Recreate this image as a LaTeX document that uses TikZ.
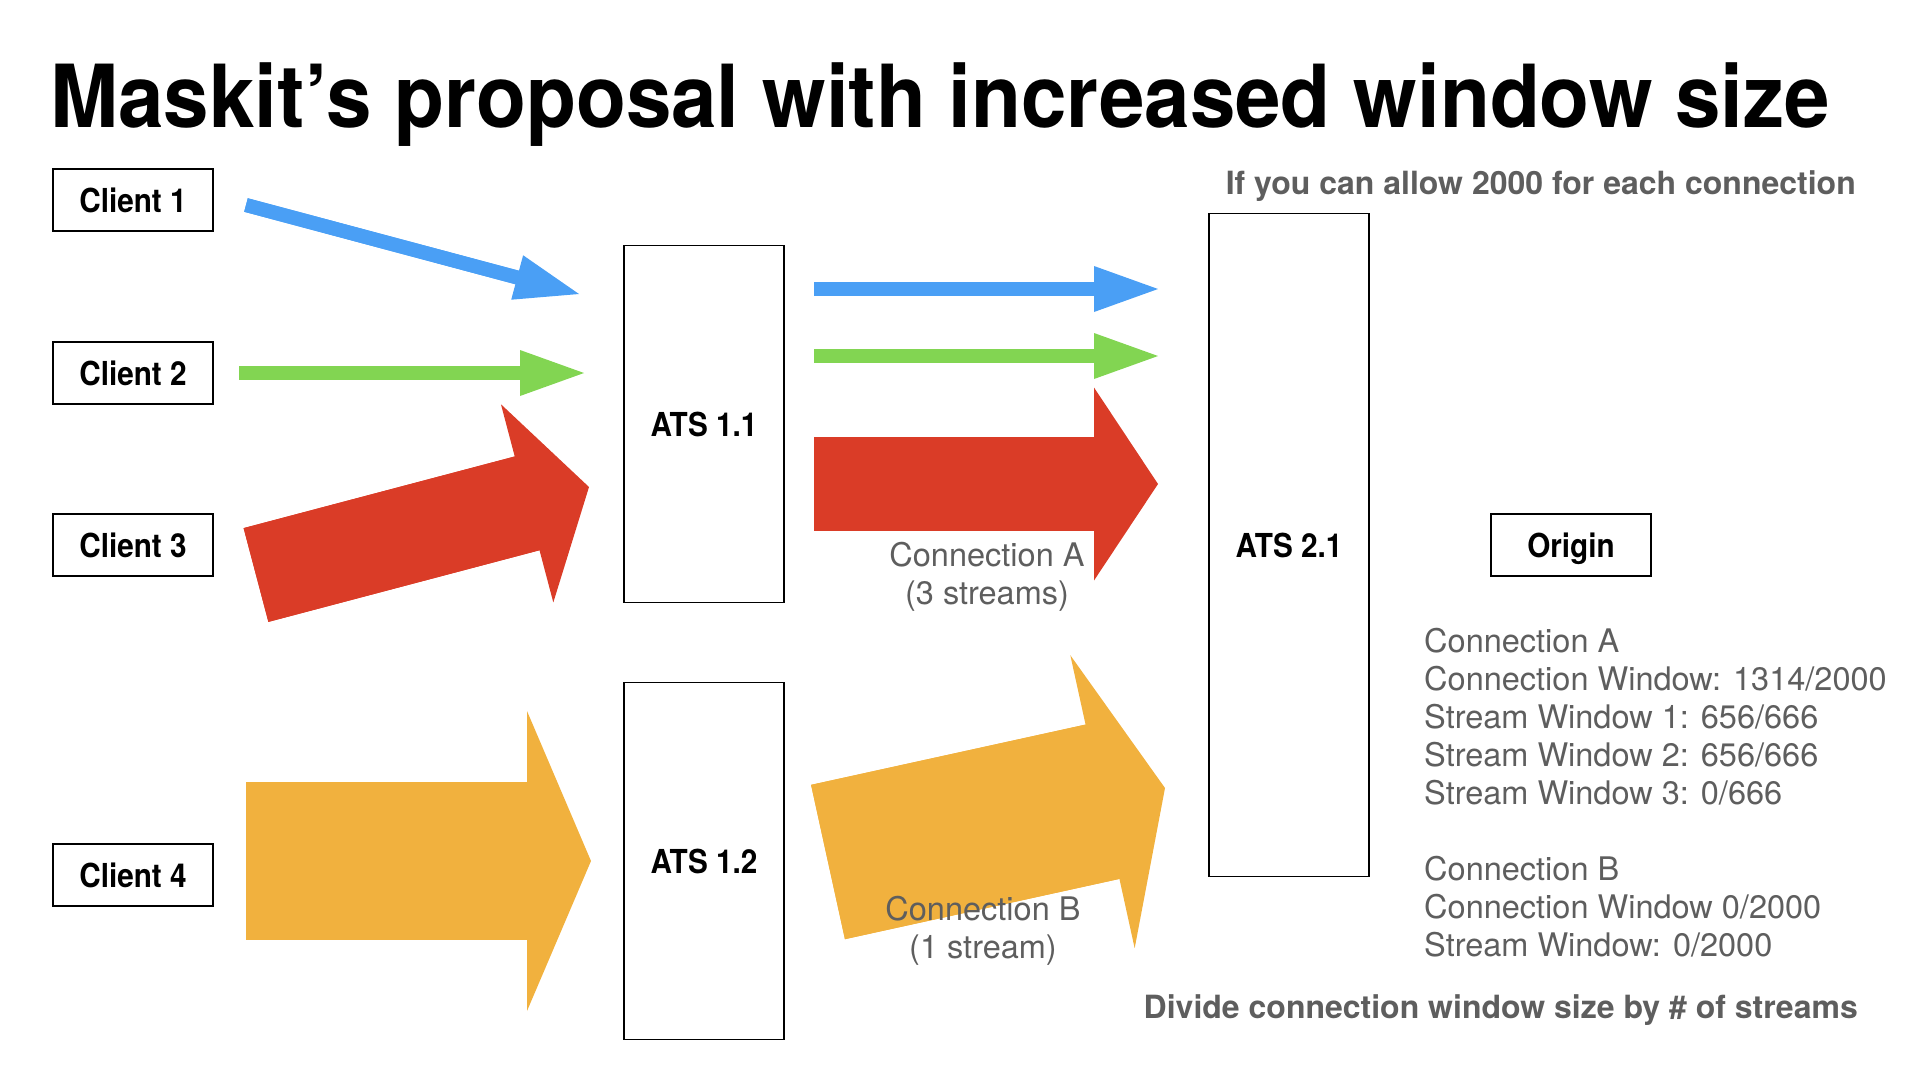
\documentclass[tikz,border=0pt]{standalone}
\usepackage{fontspec}
\setmainfont{TeX Gyre Heros}
\newfontfamily\headfont[FakeStretch=0.94]{TeX Gyre Heros}
\newfontfamily\boxfont[FakeStretch=0.9]{TeX Gyre Heros}
\usetikzlibrary{arrows.meta}

\definecolor{flowblue}{RGB}{74,159,245}
\definecolor{flowgreen}{RGB}{130,213,82}
\definecolor{flowred}{RGB}{218,60,39}
\definecolor{floworange}{RGB}{241,177,62}
\definecolor{notegray}{RGB}{94,94,94}

\tikzset{
	box/.style={draw, line width=1.6pt, minimum width=160pt, minimum height=62pt, text depth=0pt,
		font=\boxfont\bfseries\fontsize{33}{38}\selectfont},
	flow/.style 2 args={line width=#1, line cap=butt,
		-{Triangle[width=#2,length=64pt,line width=0pt]},
		postaction={draw, -, shorten >=56pt}},
	note/.style={text=notegray, inner sep=0pt, font=\fontsize{32.5}{38}\selectfont},
	boldnote/.style={text=notegray, inner sep=0pt, font=\bfseries\fontsize{32}{38}\selectfont}
}

\begin{document}
\begin{tikzpicture}[x=1pt,y=-1pt]
			\useasboundingbox (0,0) rectangle (1920,1080);

			\node[anchor=base west, inner sep=0pt, font=\headfont\bfseries\fontsize{87}{100}\selectfont] (title) at (50,127) {Maskit’s proposal with increased window size};

			% clients
			\node[box] (c1) at (133,200) {Client 1};
			\node[box] (c2) at (133,373) {Client 2};
			\node[box] (c3) at (133,545) {Client 3};
			\node[box] (c4) at (133,875) {Client 4};

			% proxies
			\node[box, minimum height=357pt] (ats11) at (704,424) {ATS 1.1};
			\node[box, minimum height=357pt] (ats12) at (704,861) {ATS 1.2};
			\node[box, minimum height=663pt] (ats21) at (1289,545) {ATS 2.1};
			\node[box] (origin) at (1571,545) {Origin};

			% arrow ends
			\coordinate (b1s) at (246,205);
			\coordinate (b1e) at (579,294);
			\coordinate (g1s) at (239,373);
			\coordinate (g1e) at (584,373);
			\coordinate (r1s) at (256,575);
			\coordinate (r1e) at (589,487);
			\coordinate (o1s) at (246,861);
			\coordinate (o1e) at (591,861);
			\coordinate (b2s) at (814,289);
			\coordinate (b2e) at (1158,289);
			\coordinate (g2s) at (814,356);
			\coordinate (g2e) at (1158,356);
			\coordinate (r2s) at (814,484);
			\coordinate (r2e) at (1158,484);
			\coordinate (o2s) at (828,862);
			\coordinate (o2e) at (1165,788);

			\draw[flowblue, flow={14pt}{46pt}] (b1s) -- (b1e);
			\draw[flowgreen, flow={14pt}{46pt}] (g1s) -- (g1e);
			\draw[flowred, flow={97pt}{205pt}] (r1s) -- (r1e);
			\draw[floworange, flow={158pt}{300pt}] (o1s) -- (o1e);
			\draw[flowblue, flow={14pt}{46pt}] (b2s) -- (b2e);
			\draw[flowgreen, flow={14pt}{46pt}] (g2s) -- (g2e);
			\draw[flowred, flow={94pt}{193pt}] (r2s) -- (r2e);
			\draw[floworange, flow={158pt}{300pt}] (o2s) -- (o2e);

			% labels
			\node[note, align=center, anchor=north] (cona) at (987,542) {Connection A\\(3 streams)};
			\node[note, align=center, anchor=north] (conb) at (983,896) {Connection B\\(1 stream)};

			\node[boldnote, anchor=base east] (allow) at (1856,194) {If you can allow 2000 for each connection};
			\node[boldnote, anchor=base east] (divide) at (1858,1018) {Divide connection window size by \# of streams};

			\node[note, align=left, anchor=north west] (windows) at (1424,628) {Connection A\\Connection Window: 1314/2000\\Stream Window 1: 656/666\\Stream Window 2: 656/666\\Stream Window 3: 0/666\\[38pt]Connection B\\Connection Window 0/2000\\Stream Window: 0/2000};
		\end{tikzpicture}
\end{document}
